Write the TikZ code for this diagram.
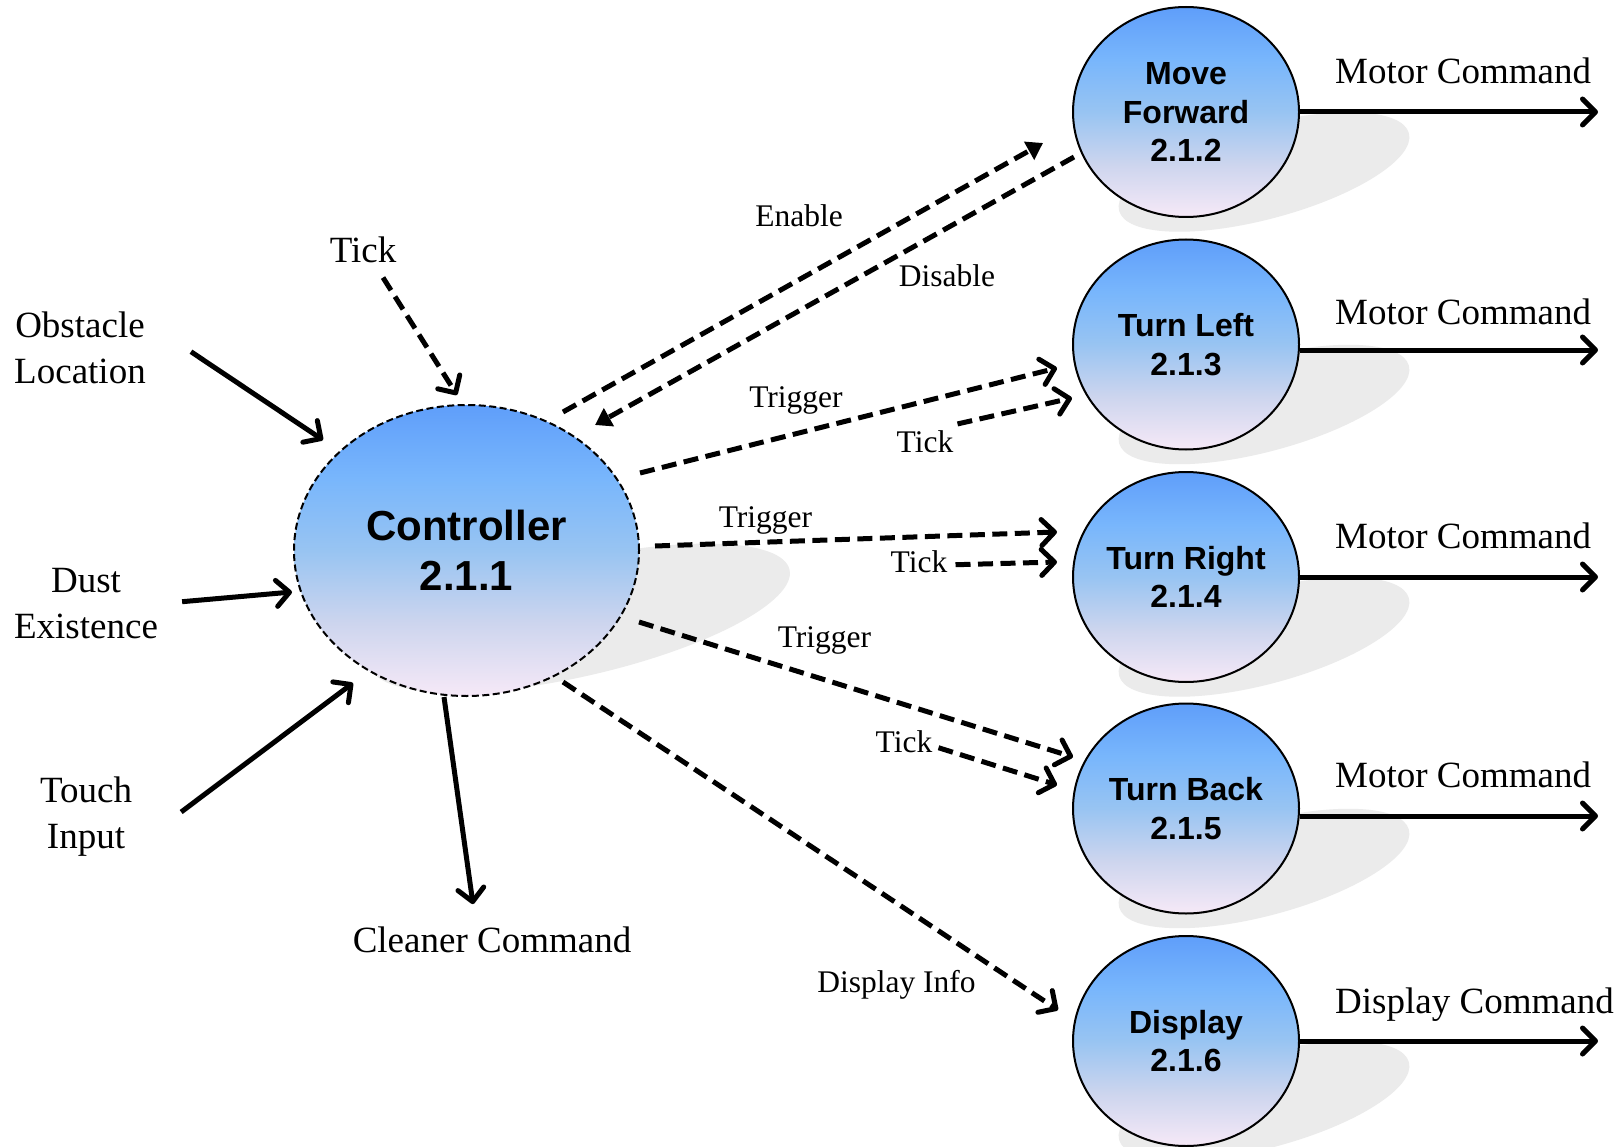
\documentclass[tikz,border=0pt]{standalone}
\usepackage{fontspec}
\setmainfont{Liberation Serif}
\setsansfont{Liberation Sans}
\usetikzlibrary{arrows.meta,calc,shapes.geometric,backgrounds}

\definecolor{shadowgray}{RGB}{235,235,235}
\definecolor{bubtop}{RGB}{95,158,250}
\definecolor{bubhi}{RGB}{120,182,252}
\definecolor{bubmid}{RGB}{152,196,242}
\definecolor{bublow}{RGB}{205,213,238}
\definecolor{bubbot}{RGB}{246,233,247}

% blue-to-lavender fill of the process bubbles (path covers 25bp..75bp)
\pgfdeclareverticalshading{bubble}{100bp}{color(0bp)=(bubbot); color(25bp)=(bubbot); color(37.5bp)=(bublow); color(50bp)=(bubmid); color(62.5bp)=(bubhi); color(75bp)=(bubtop); color(100bp)=(bubtop)}

\tikzset{
  process/.style={ellipse, draw=black, line width=2pt, shade, shading=bubble,
    minimum width=226pt, minimum height=210pt, inner sep=0pt, align=center,
    font=\sffamily\bfseries\fontsize{32}{38.5}\selectfont},
  ctrlproc/.style={process, dash pattern=on 7pt off 3.5pt,
    minimum width=345pt, minimum height=291pt,
    font=\sffamily\bfseries\fontsize{42}{50}\selectfont},
  shadowblob/.style={ellipse, fill=shadowgray, draw=none, inner sep=0pt},
  biglabel/.style={inner sep=0pt, align=center, font=\fontsize{37}{46}\selectfont},
  flowlabel/.style={inner sep=0pt, font=\fontsize{31.5}{37}\selectfont},
  chev/.style={-{Straight Barb[length=13pt,width=26pt,round]}},
  solidflow/.style={line width=5pt, chev},
  dataflow/.style={line width=5pt, dash pattern=on 15pt off 7.5pt, chev},
  ctrlflow/.style={line width=5pt, dash pattern=on 15pt off 7.5pt,
    -{Triangle[length=16pt,width=20pt]}},
}

\begin{document}
\begin{tikzpicture}[x=1pt, y=-1pt]
\useasboundingbox (0,0) rectangle (1624,1147);

% processes
\node[ctrlproc] (ctrl) at (466.5,550.5) {Controller\\2.1.1};
\node[process] (mf) at (1186,112) {Move\\Forward\\2.1.2};
\node[process] (tl) at (1186,344.5) {Turn Left\\2.1.3};
\node[process] (tr) at (1186,577) {Turn Right\\2.1.4};
\node[process] (tb) at (1186,808.5) {Turn Back\\2.1.5};
\node[process] (dp) at (1186,1041) {Display\\2.1.6};

% drop shadows behind the processes
\begin{scope}[on background layer]
  \fill[white] (0,0) rectangle (1624,1147);
  \node[shadowblob, minimum width=430pt, minimum height=116pt, rotate=13]
    (ctrl-sh) at ($(ctrl)+(113.5,67.5)$) {};
  \foreach \p in {mf,tl,tr,tb,dp}
    \node[shadowblob, minimum width=300pt, minimum height=94pt, rotate=15]
      (\p-sh) at ($(\p)+(78,60)$) {};
\end{scope}

% external inputs and outputs of the controller
\node[biglabel, anchor=base] (tk0) at (363,263) {Tick};
\node[biglabel] (obs) at (80,347.7) {Obstacle\\Location};
\node[biglabel] (dust) at (86,603.7) {Dust\\Existence};
\node[biglabel] (touch) at (86,817) {Touch\\Input};
\node[biglabel, anchor=base] (clean) at (492,952) {Cleaner Command};

\draw[dataflow] ($(tk0.south)+(20,14)$) -- ($(ctrl)+(-9.5,-155.5)$);
\draw[solidflow] ($(obs.east)+(45,4)$) -- ($(ctrl)+(-143.5,-110.5)$);
\draw[solidflow] ($(dust.east)+(24,-2)$) -- ($(ctrl)+(-174.5,41.5)$);
\draw[solidflow] ($(touch.east)+(49,-5)$) -- ($(ctrl)+(-113.5,132.5)$);
\draw[solidflow] ($(ctrl)+(-22.5,146.5)$) -- ($(clean.north)+(-19,-22)$);

% flow labels
\node[flowlabel, anchor=base] (en) at (799,227) {Enable};
\node[flowlabel, anchor=base] (dis) at (947,287) {Disable};
\node[flowlabel, anchor=base] (tg1) at (796,407) {Trigger};
\node[flowlabel, anchor=base] (tk1) at (925,452) {Tick};
\node[flowlabel, anchor=base] (tg2) at (765.5,527.5) {Trigger};
\node[flowlabel, anchor=base] (tk2) at (919,572) {Tick};
\node[flowlabel, anchor=base] (tg3) at (824.5,647) {Trigger};
\node[flowlabel, anchor=base] (tk3) at (904,752) {Tick};
\node[flowlabel, anchor=base] (di) at (896.5,992) {Display Info};

% controller to the motion and display processes
\draw[ctrlflow] ($(ctrl)+(96.5,-138.5)$) -- ($(mf)+(-143,31)$);
\draw[ctrlflow] ($(mf)+(-112,45)$) -- ($(ctrl)+(128.5,-125.5)$);
\draw[dataflow] ($(ctrl)+(173.5,-77.5)$) -- ($(tl)+(-129,23.5)$);
\draw[dataflow] ($(tk1.north east)+(4,-6)$) -- ($(tl)+(-114,53.5)$);
\draw[dataflow] ($(ctrl)+(188.5,-4.5)$) -- ($(tr)+(-129,-45)$);
\draw[dataflow] ($(tk2.east)+(8,3.5)$) -- ($(tr)+(-129,-15)$);
\draw[dataflow] ($(ctrl)+(172.5,71.5)$) -- ($(tb)+(-113,-51.5)$);
\draw[dataflow] ($(tk3.east)+(6,6.5)$) -- ($(tb)+(-129,-23.5)$);
\draw[dataflow] ($(ctrl)+(96.5,131.5)$) -- ($(dp)+(-128,-31)$);

% commands leaving the processes
\coordinate (mfo) at (1598,112);
\coordinate (tlo) at (1598,350);
\coordinate (tro) at (1598,577);
\coordinate (tbo) at (1598,816);
\coordinate (dpo) at (1598,1041);
\draw[solidflow] (mf.east) -- (mfo);
\draw[solidflow] ([yshift=-5.5pt]tl.east) -- (tlo);
\draw[solidflow] (tr.east) -- (tro);
\draw[solidflow] ([yshift=-7.5pt]tb.east) -- (tbo);
\draw[solidflow] (dp.east) -- (dpo);

\node[biglabel, anchor=base west] (mo1) at (1335,83.5) {Motor Command};
\node[biglabel, anchor=base west] (mo2) at (1335,324) {Motor Command};
\node[biglabel, anchor=base west] (mo3) at (1335,548.5) {Motor Command};
\node[biglabel, anchor=base west] (mo4) at (1335,787.7) {Motor Command};
\node[biglabel, anchor=base west] (dco) at (1335,1013.5) {Display Command};
\end{tikzpicture}
\end{document}
